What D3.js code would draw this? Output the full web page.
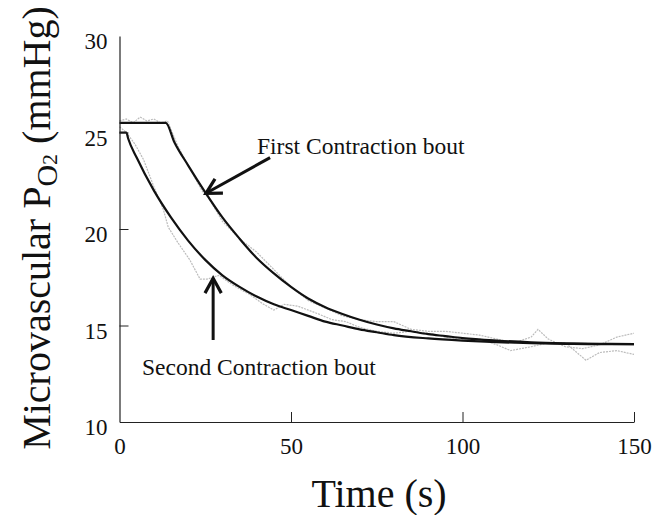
<!DOCTYPE html>
<html>
<head>
<meta charset="utf-8">
<script src="https://cdn.jsdelivr.net/npm/d3@7"></script>
<style>
  body { margin: 0; background: #fff; }
  text { font-family: "Liberation Serif", "Times New Roman", serif; fill: #111; }
</style>
</head>
<body>
<svg width="653" height="515"></svg>
<script>
// time (s) and PO2 (mmHg)
const fitFirstT = [0, 13.5, 16, 20, 25, 30, 35, 40, 45, 50, 55, 60, 65, 70, 75, 80, 85, 90, 95, 100, 110, 120, 130, 140, 150];
const fitFirstV = [25.5, 25.5, 24.5, 23.3, 21.9, 20.6, 19.5, 18.5, 17.7, 17.0, 16.4, 15.95, 15.6, 15.3, 15.05, 14.85, 14.7, 14.55, 14.45, 14.35, 14.22, 14.13, 14.08, 14.05, 14.03];

const fitSecondT = [0, 2, 2.5, 5, 10, 15, 20, 25, 30, 35, 40, 45, 50, 55, 60, 65, 70, 75, 80, 90, 100, 110, 120, 130, 140, 150];
const fitSecondV = [25.0, 25.0, 24.7, 23.7, 22.0, 20.6, 19.4, 18.4, 17.6, 17.0, 16.5, 16.1, 15.8, 15.5, 15.2, 15.0, 14.8, 14.65, 14.5, 14.33, 14.22, 14.14, 14.08, 14.05, 14.03, 14.03];

const dataFirstT = [0, 2, 4, 6, 8, 10, 12, 14, 17, 20, 24, 26, 30, 35, 40, 45, 50, 55, 60, 65, 70, 75, 80, 85, 90, 95, 100, 105, 110, 115, 120, 122, 125, 130, 135, 140, 145, 150];
const dataFirstV = [25.6, 25.7, 25.5, 25.8, 25.6, 25.7, 25.5, 25.6, 24.3, 23.3, 22.0, 21.6, 20.4, 19.5, 18.8, 17.9, 17.0, 16.3, 15.9, 15.5, 15.3, 15.2, 15.2, 14.8, 14.7, 14.7, 14.6, 14.5, 14.3, 14.1, 14.4, 14.8, 14.3, 13.9, 13.8, 14.0, 14.4, 14.6];

const dataSecondT = [0, 2, 4.5, 7, 10, 12.8, 14.2, 17, 20.5, 23.5, 25.5, 29, 33, 38, 42, 45, 48, 52, 55, 58, 62, 66, 70, 75, 80, 85, 90, 95, 100, 105, 110, 114, 120, 125, 130, 136, 140, 145, 150];
const dataSecondV = [25.3, 25.0, 24.4, 23.6, 22.2, 21.0, 20.1, 19.3, 18.4, 17.4, 17.4, 17.6, 17.1, 16.6, 16.1, 15.8, 16.1, 16.0, 15.8, 15.6, 15.3, 15.2, 14.9, 14.7, 14.6, 14.7, 14.6, 14.4, 14.3, 14.3, 14.0, 13.7, 13.9, 14.1, 14.1, 13.2, 13.6, 13.7, 13.5];

const xTicks = [0, 50, 100, 150];
const yTicks = [10, 15, 20, 25, 30];

const svg = d3.select("svg");

const x = d3.scaleLinear().domain([0, 150]).range([119.5, 634]);
const y = d3.scaleLinear().domain([10, 30]).range([422, 36]);

const zip = (ts, vs) => ts.map((t, i) => [t, vs[i]]);

const line = d3.line()
  .x(d => x(d[0]))
  .y(d => y(d[1]));

// gray measured traces
[zip(dataFirstT, dataFirstV), zip(dataSecondT, dataSecondV)].forEach(pts => {
  svg.append("path")
    .attr("d", line(pts))
    .attr("fill", "none")
    .attr("stroke", "#bcbcbc")
    .attr("stroke-width", 1.2)
    .attr("stroke-dasharray", "2,1");
});

// model fits
[zip(fitFirstT, fitFirstV), zip(fitSecondT, fitSecondV)].forEach(pts => {
  svg.append("path")
    .attr("d", line.curve(d3.curveMonotoneX)(pts))
    .attr("fill", "none")
    .attr("stroke", "#111")
    .attr("stroke-width", 2.2);
});

// axes
const xAxis = svg.append("g")
  .attr("transform", `translate(0,${y(10)})`)
  .call(d3.axisBottom(x).tickValues(xTicks).tickSizeInner(-10).tickSizeOuter(0).tickPadding(16));

const yAxis = svg.append("g")
  .attr("transform", `translate(${x(0)},0)`)
  .call(d3.axisLeft(y).tickValues(yTicks).tickSizeInner(-9).tickSizeOuter(0).tickPadding(12));

[xAxis, yAxis].forEach(g => {
  g.select(".domain").attr("stroke", "#222").attr("stroke-width", 1.2);
  g.selectAll(".tick line").attr("stroke", "#222");
  g.selectAll(".tick text")
    .style("font-family", "'Liberation Serif', serif")
    .style("font-size", "23px")
    .attr("fill", "#111");
});
xAxis.selectAll(".tick").filter(d => d === 0).select("line").remove();
yAxis.selectAll(".tick").filter(d => d === 10 || d === 30).select("line").remove();
yAxis.selectAll(".tick text").attr("dy", "0.55em");

// axis titles
svg.append("text")
  .attr("x", 379)
  .attr("y", 507)
  .attr("text-anchor", "middle")
  .style("font-size", "40px")
  .text("Time (s)");

const yt = svg.append("text")
  .attr("transform", "translate(50,228) rotate(-90)")
  .attr("text-anchor", "middle")
  .style("font-size", "40px");
yt.append("tspan").text("Microvascular P");
yt.append("tspan").attr("baseline-shift", "-22%").style("font-size", "30px").text("O");
yt.append("tspan").attr("baseline-shift", "-34%").style("font-size", "22px").text("2");
yt.append("tspan").text(" (mmHg)");

// annotations
svg.append("text")
  .attr("x", 257)
  .attr("y", 154)
  .style("font-size", "23.5px")
  .text("First Contraction bout");

svg.append("text")
  .attr("x", 142)
  .attr("y", 375)
  .style("font-size", "23.5px")
  .text("Second Contraction bout");

function arrow(t0, v0, t1, v1) {
  const x0 = x(t0), y0 = y(v0), x1 = x(t1), y1 = y(v1);
  const a = Math.atan2(y1 - y0, x1 - x0);
  const len = 17, spread = 0.5;
  svg.append("line")
    .attr("x1", x0).attr("y1", y0).attr("x2", x1).attr("y2", y1)
    .attr("stroke", "#111").attr("stroke-width", 3);
  const p = [
    [x1 - len * Math.cos(a - spread), y1 - len * Math.sin(a - spread)],
    [x1, y1],
    [x1 - len * Math.cos(a + spread), y1 - len * Math.sin(a + spread)]
  ];
  svg.append("path")
    .attr("d", d3.line()(p))
    .attr("fill", "none")
    .attr("stroke", "#111")
    .attr("stroke-width", 3.2)
    .attr("stroke-linejoin", "miter");
}

arrow(43.9, 23.7, 25.2, 21.85);
arrow(27.3, 14.25, 27.3, 17.45);
</script>
</body>
</html>
